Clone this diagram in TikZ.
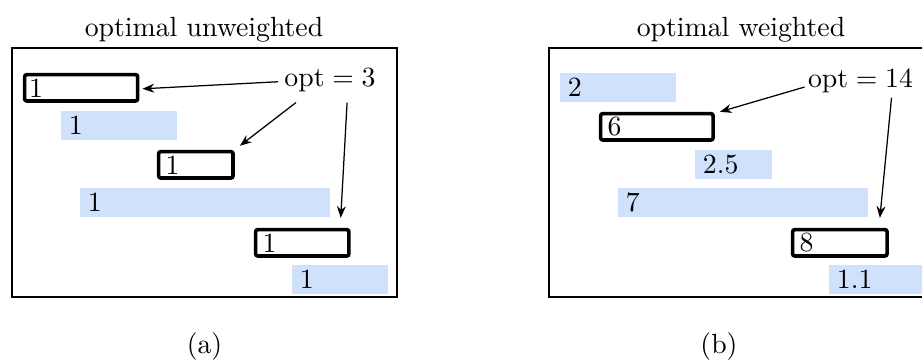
\documentclass[tikz,border=0pt]{standalone}
\usetikzlibrary{arrows.meta}
\definecolor{barblue}{RGB}{208,225,252}
\begin{document}
\begin{tikzpicture}[x=0.36pt,y=-0.36pt,
  frame/.style={draw=black,line width=0.65pt},
  bluebar/.style={fill=barblue,anchor=north west,minimum height=10.44pt,inner ysep=0pt,inner xsep=3pt,align=left},
  optbox/.style={draw=black,line width=1.3pt,rounded corners=0.8pt,anchor=north west,minimum height=9.5pt,inner ysep=0pt,inner xsep=2.5pt,align=left},
  lbl/.style={inner sep=0pt,anchor=base},
  arr/.style={-{Stealth[length=4.2pt,width=3.2pt]},line width=0.45pt}]
\path[use as bounding box,fill=white] (0,0) rectangle (922,360);
\clip (0,0) rectangle (922,360);
% left panel
\node[lbl] (t1) at (204,36) {optimal unweighted};
\draw[frame] (12,48) rectangle (397,297);
\node[optbox,inner xsep=1.6pt,text width=37.5pt] (o1) at (22.8,72.8) {1};
\node[bluebar,text width=35.76pt] (b1) at (60,110) {1};
\node[optbox,text width=21.8pt] (o2) at (156.8,149.8) {1};
\node[bluebar,text width=84pt] (b2) at (79,187) {1};
\node[optbox,text width=28.6pt] (o3) at (253.8,227.8) {1};
\node[bluebar,text width=28.56pt] (b3) at (291,264) {1};
\node[lbl] (opt1) at (330,86) {$\mathrm{opt}=3$};
\draw[arr] ([shift={(-6,2)}]opt1.west) -- ([shift={(3,1)}]o1.east);
\draw[arr] ([shift={(12,10.6)}]opt1.south west) -- ([shift={(5,-4)}]o2.north east);
\draw[arr] ([shift={(-29,10.6)}]opt1.south east) -- ([shift={(-10,-10)}]o3.north east);
\node[lbl] (ca) at (204.5,353) {(a)};
% right panel
\node[lbl] (t2) at (741,36) {optimal weighted};
\draw[frame] (549,48) rectangle (934,297);
\node[bluebar,text width=35.76pt] (b4) at (559,72) {2};
\node[optbox,text width=35.5pt] (o4) at (598.8,111.8) {6};
\node[bluebar,text width=21.72pt] (b5) at (694,149) {2.5};
\node[bluebar,text width=84pt] (b6) at (617,187) {7};
\node[optbox,text width=29pt] (o5) at (790.8,227.8) {8};
\node[bluebar,text width=28.56pt] (b7) at (828,264) {1.1};
\node[lbl] (opt2) at (860.5,87) {$\mathrm{opt}=14$};
\draw[arr] ([shift={(-3,6.3)}]opt2.west) -- ([shift={(5,0)}]o4.north east);
\draw[arr] ([shift={(-22,4.6)}]opt2.south east) -- ([shift={(-9,-10)}]o5.north east);
\node[lbl] (cb) at (719,353) {(b)};
\end{tikzpicture}
\end{document}
